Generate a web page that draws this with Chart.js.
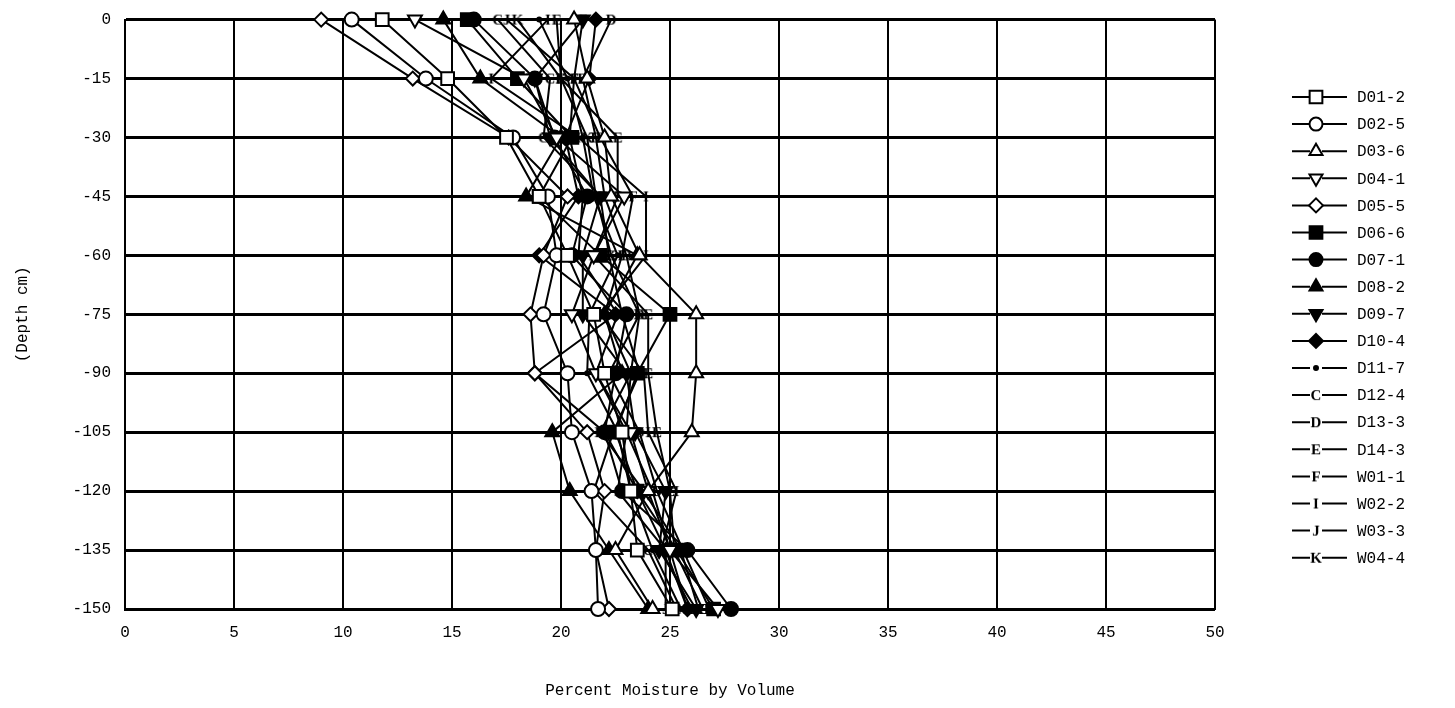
<!DOCTYPE html>
<html>
<head>
<meta charset="utf-8">
<script src="https://cdn.jsdelivr.net/npm/chart.js@4.4.1/dist/chart.umd.min.js"></script>
<style>
  html, body { margin: 0; padding: 0; background: #fff; overflow: hidden; }
  #wrap { width: 1455px; height: 712px; margin-top: -4px; }
</style>
</head>
<body>
<div id="wrap"><canvas id="chart" width="1455" height="712"></canvas></div>
<script>
// ─── Data ────────────────────────────────────────────────────────────────────

const DEPTHS  = [0, -15, -30, -45, -60, -75, -90, -105, -120, -135, -150];
const X_TICKS = [0, 5, 10, 15, 20, 25, 30, 35, 40, 45, 50];
const Y_TICKS = [0, -15, -30, -45, -60, -75, -90, -105, -120, -135, -150];

const LABELS = ['D01-2', 'D02-5', 'D03-6', 'D04-1', 'D05-5', 'D06-6', 'D07-1', 'D08-2', 'D09-7',
                'D10-4', 'D11-7', 'D12-4', 'D13-3', 'D14-3', 'W01-1', 'W02-2', 'W03-3', 'W04-4'];

const D01_2 = [11.8, 14.8, 17.5, 19.0, 20.3, 21.5, 22.0, 22.8, 23.2, 23.5, 25.1];
const D02_5 = [10.4, 13.8, 17.8, 19.4, 19.8, 19.2, 20.3, 20.5, 21.4, 21.6, 21.7];
const D03_6 = [20.6, 21.2, 22.0, 22.3, 23.6, 26.2, 26.2, 26.0, 24.0, 22.5, 24.2];
const D04_1 = [13.3, 18.3, 19.8, 22.9, 21.5, 20.5, 21.6, 23.2, 24.0, 25.0, 27.2];
const D05_5 = [9.0, 13.2, 17.6, 20.3, 19.2, 18.6, 18.8, 21.2, 22.0, 21.6, 22.2];
const D06_6 = [15.7, 18.0, 20.5, 19.0, 21.8, 25.0, 23.5, 22.5, 23.5, 25.3, 27.0];
const D07_1 = [16.0, 18.8, 19.7, 21.2, 20.5, 23.0, 22.5, 22.0, 22.8, 25.8, 27.8];
const D08_2 = [14.6, 16.3, 20.0, 18.4, 23.5, 22.0, 22.8, 19.6, 20.4, 22.2, 24.0];
const D09_7 = [21.0, 18.8, 19.5, 21.8, 21.0, 21.0, 23.0, 23.4, 24.8, 24.5, 26.2];
const D10_4 = [21.6, 21.3, 20.2, 20.8, 19.0, 22.5, 18.8, 22.0, 23.5, 24.8, 25.8];
const D11_7 = [19.0, 20.3, 21.0, 21.5, 22.6, 21.3, 21.2, 22.6, 23.2, 24.2, 25.5];
const D12_4 = [17.1, 19.5, 19.2, 21.8, 22.2, 22.8, 23.6, 22.4, 21.5, 24.0, 25.3];
const D13_3 = [22.3, 21.0, 21.6, 22.0, 23.0, 23.6, 22.2, 23.6, 24.4, 25.6, 26.8];
const D14_3 = [19.8, 20.0, 22.6, 22.6, 21.5, 24.0, 24.0, 24.4, 25.0, 25.2, 26.5];
const W01_1 = [21.0, 20.6, 21.8, 23.3, 22.8, 22.0, 23.2, 23.0, 24.2, 25.0, 25.8];
const W02_2 = [19.4, 16.8, 20.8, 23.9, 23.9, 21.8, 23.8, 24.0, 25.3, 24.6, 26.0];
const W03_3 = [17.5, 20.6, 20.4, 21.0, 20.8, 22.6, 21.6, 23.0, 22.6, 24.8, 24.8];
const W04_4 = [18.0, 20.0, 21.2, 21.6, 22.3, 23.6, 23.2, 21.8, 23.8, 25.5, 26.3];

const SERIES = [D01_2, D02_5, D03_6, D04_1, D05_5, D06_6, D07_1, D08_2, D09_7,
                D10_4, D11_7, D12_4, D13_3, D14_3, W01_1, W02_2, W03_3, W04_4];

// ─── Markers ─────────────────────────────────────────────────────────────────

const MONO  = '"Liberation Mono", "DejaVu Sans Mono", monospace';
const SERIF = '"Liberation Serif", "DejaVu Serif", serif';

function letterMark(ch) {
  const c = document.createElement('canvas');
  c.width = 14; c.height = 16;
  const g = c.getContext('2d');
  g.fillStyle = '#000';
  g.font = 'bold 15px ' + SERIF;
  g.textAlign = 'center';
  g.textBaseline = 'middle';
  g.fillText(ch, 7, 9);
  return c;
}

// style, fill, rotation, radius on the plot, radius in the legend
const MARKS = [
  { style: 'rect',     fill: '#fff', rot: 0,   r: 9, lr: 9 },
  { style: 'circle',   fill: '#fff', rot: 0,   r: 7, lr: 6.5 },
  { style: 'triangle', fill: '#fff', rot: 0,   r: 8, lr: 7.5 },
  { style: 'triangle', fill: '#fff', rot: 180, r: 8, lr: 7.5 },
  { style: 'rectRot',  fill: '#fff', rot: 0,   r: 7, lr: 7 },
  { style: 'rect',     fill: '#000', rot: 0,   r: 9, lr: 9 },
  { style: 'circle',   fill: '#000', rot: 0,   r: 7, lr: 6.5 },
  { style: 'triangle', fill: '#000', rot: 0,   r: 8, lr: 7.5 },
  { style: 'triangle', fill: '#000', rot: 180, r: 8, lr: 7.5 },
  { style: 'rectRot',  fill: '#000', rot: 0,   r: 7, lr: 7 },
  { style: 'circle',   fill: '#000', rot: 0,   r: 2, lr: 2 },
  { style: letterMark('C'), fill: '#000', rot: 0, r: 7, lr: 7 },
  { style: letterMark('D'), fill: '#000', rot: 0, r: 7, lr: 7 },
  { style: letterMark('E'), fill: '#000', rot: 0, r: 7, lr: 7 },
  { style: letterMark('F'), fill: '#000', rot: 0, r: 7, lr: 7 },
  { style: letterMark('I'), fill: '#000', rot: 0, r: 7, lr: 7 },
  { style: letterMark('J'), fill: '#000', rot: 0, r: 7, lr: 7 },
  { style: letterMark('K'), fill: '#000', rot: 0, r: 7, lr: 7 }
];

// ─── Legend (drawn by hand: line — marker — line, then label) ────────────────

const legendPlugin = {
  id: 'sideLegend',
  afterDraw(chart) {
    const ctx = chart.ctx;
    const top = 101, step = 27.1;   // canvas sits 4px above the page top
    const x0 = 1292, x1 = 1347, mx = 1316, tx = 1357;
    ctx.save();
    LABELS.forEach((lab, i) => {
      const y = top + i * step;
      const m = MARKS[i];
      ctx.strokeStyle = '#000';
      ctx.lineWidth = 2;
      ctx.beginPath();
      ctx.moveTo(x0, y); ctx.lineTo(mx - 6, y);
      ctx.moveTo(mx + 6, y); ctx.lineTo(x1, y);
      ctx.stroke();
      ctx.fillStyle = m.fill;
      Chart.helpers.drawPoint(ctx, {
        pointStyle: m.style, radius: m.lr, rotation: m.rot, borderWidth: 2
      }, mx, y);
      ctx.fillStyle = '#000';
      ctx.font = '16px ' + MONO;
      ctx.textAlign = 'left';
      ctx.textBaseline = 'middle';
      ctx.fillText(lab, tx, y + 1);
    });
    ctx.restore();
  }
};

// ─── Chart ───────────────────────────────────────────────────────────────────

const datasets = SERIES.map((vals, i) => ({
  label: LABELS[i],
  data: DEPTHS.map((d, j) => ({ x: vals[j], y: d })),
  showLine: true,
  clip: false,
  borderColor: '#000',
  borderWidth: 2,
  pointStyle: MARKS[i].style,
  pointRotation: MARKS[i].rot,
  pointRadius: MARKS[i].r,
  pointBackgroundColor: MARKS[i].fill,
  pointBorderColor: '#000',
  pointBorderWidth: 2,
  tension: 0
}));

Chart.defaults.font.family = MONO;
Chart.defaults.color = '#000';

new Chart(document.getElementById('chart'), {
  type: 'scatter',
  data: { datasets },
  options: {
    responsive: false,
    animation: false,
    layout: { padding: { top: 14, right: 240, left: 0, bottom: 0 } },
    plugins: { legend: { display: false }, tooltip: { enabled: false } },
    scales: {
      x: {
        type: 'linear',
        min: 0, max: 50,
        afterBuildTicks: s => { s.ticks = X_TICKS.map(v => ({ value: v })); },
        afterFit: s => { s.height = 99; },
        grid: { color: '#000', lineWidth: 2, drawTicks: false },
        border: { color: '#000', width: 2 },
        ticks: { padding: 14, font: { size: 16 }, color: '#000', maxRotation: 0 },
        title: { display: true, text: 'Percent Moisture by Volume', font: { size: 16 }, color: '#000', padding: { top: 0, bottom: 8 } }
      },
      y: {
        type: 'linear',
        min: -150, max: 0,
        afterBuildTicks: s => { s.ticks = Y_TICKS.map(v => ({ value: v })); },
        afterFit: s => { s.width = 125; },
        grid: { color: '#000', lineWidth: 3, drawTicks: false },
        border: { color: '#000', width: 2 },
        ticks: { padding: 14, font: { size: 16 }, color: '#000' },
        title: { display: true, text: '(Depth cm)', font: { size: 16 }, color: '#000', padding: { top: 13, bottom: 0 } }
      }
    }
  },
  plugins: [legendPlugin]
});
</script>
</body>
</html>
